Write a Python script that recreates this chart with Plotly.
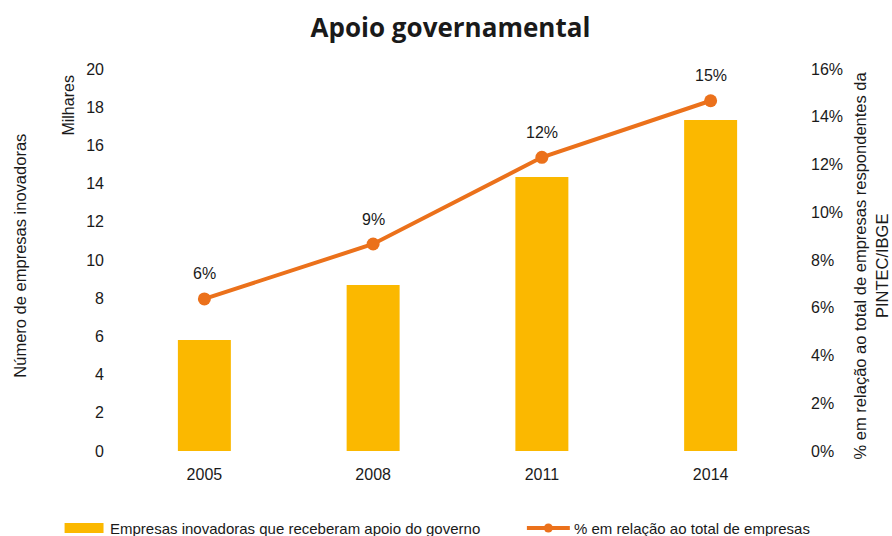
import plotly.graph_objects as go

# Data
anos = ["2005", "2008", "2011", "2014"]
empresas_milhares = [5.81, 8.69, 14.35, 17.33]      # milhares de empresas
percentual = [6.37, 8.67, 12.30, 14.67]            # % do total de empresas
left_ticks = [0, 2, 4, 6, 8, 10, 12, 14, 16, 18, 20]
right_ticks = [0, 2, 4, 6, 8, 10, 12, 14, 16]

nome_barras = "Empresas inovadoras que receberam apoio do governo"
nome_linha = "% em relação ao total de empresas"
titulo = "Apoio governamental"
titulo_esq = "Número de empresas inovadoras"
titulo_dir = "% em relação ao total de empresas respondentes da<br>PINTEC/IBGE"

BAR_COLOR = "#FBB800"
LINE_COLOR = "#EB711B"
FONT = "Liberation Sans Narrow, Arial Narrow, Liberation Sans, Arial, sans-serif"
TXT = "#1a1a1a"

W, H = 892, 536
ML, MR, MT, MB = 119.5, 96.5, 69, 85
PW, PH = W - ML - MR, H - MT - MB

# category slots on the x axis
pos = list(range(len(anos)))


def px(x):
    return (x - ML) / PW


def py(y):
    return (H - MB - y) / PH


fig = go.Figure()

fig.add_trace(go.Bar(
    x=pos, y=empresas_milhares, name=nome_barras,
    customdata=anos, hovertemplate="%{customdata}: %{y}<extra></extra>",
    marker=dict(color=BAR_COLOR, line=dict(width=0)),
    showlegend=False,
))

fig.add_trace(go.Scatter(
    x=pos, y=percentual, name=nome_linha, yaxis="y2",
    customdata=anos, hovertemplate="%{customdata}: %{y:.1f}%<extra></extra>",
    mode="lines+markers",
    line=dict(color=LINE_COLOR, width=4),
    marker=dict(color=LINE_COLOR, size=13),
    showlegend=False,
))

annotations = []
# Value labels above the line points
for xi, p in zip(pos, percentual):
    annotations.append(dict(
        x=xi, y=p, xref="x", yref="y2", text=f"{p:.0f}%",
        showarrow=False, yshift=25,
        font=dict(family=FONT, size=16, color=TXT),
    ))

# "Milhares" unit label
annotations.append(dict(
    x=px(68), y=py(106), xref="paper", yref="paper", text="Milhares",
    textangle=-90, showarrow=False, xanchor="center", yanchor="middle",
    font=dict(family=FONT, size=16, color=TXT),
))
# Left axis title
annotations.append(dict(
    x=px(19), y=py(256), xref="paper", yref="paper", text=titulo_esq,
    textangle=-90, showarrow=False, xanchor="center", yanchor="middle",
    font=dict(family=FONT, size=16.5, color=TXT),
))
# Right axis title
annotations.append(dict(
    x=px(871), y=py(265), xref="paper", yref="paper", text=titulo_dir,
    textangle=-90, showarrow=False, xanchor="center", yanchor="middle",
    font=dict(family=FONT, size=16.5, color=TXT),
))
# Legend texts
annotations.append(dict(
    x=px(107), y=py(528), xref="paper", yref="paper", text=nome_barras,
    showarrow=False, xanchor="left", yanchor="middle",
    font=dict(family=FONT, size=15, color=TXT),
))
annotations.append(dict(
    x=px(572), y=py(528), xref="paper", yref="paper", text=nome_linha,
    showarrow=False, xanchor="left", yanchor="middle",
    font=dict(family=FONT, size=15, color=TXT),
))

# Legend swatches
shapes = [
    dict(type="rect", xref="paper", yref="paper",
         x0=px(64), x1=px(103), y0=py(533), y1=py(523),
         fillcolor=BAR_COLOR, line=dict(width=0)),
    dict(type="line", xref="paper", yref="paper",
         x0=px(527), x1=px(570), y0=py(528), y1=py(528),
         line=dict(color=LINE_COLOR, width=4)),
    dict(type="circle", xref="paper", yref="paper",
         x0=px(544), x1=px(553), y0=py(532.5), y1=py(523.5),
         fillcolor=LINE_COLOR, line=dict(width=0)),
]

fig.update_layout(
    width=W, height=H,
    margin=dict(l=ML, r=MR, t=MT, b=MB, pad=0),
    paper_bgcolor="white", plot_bgcolor="white",
    title=dict(text=f"<b>{titulo}</b>", x=0.505, xanchor="center",
               y=1 - 28 / H, yanchor="middle",
               font=dict(family="Open Sans", size=26, color=TXT)),
    bargap=0.686,
    xaxis=dict(
        range=[-0.5, len(anos) - 0.5], tickvals=pos, ticktext=anos,
        showgrid=False, showline=False, zeroline=False,
        ticks="", ticklabelstandoff=12,
        tickfont=dict(family=FONT, size=16, color=TXT),
    ),
    yaxis=dict(
        range=[0, 20], tickvals=left_ticks, showgrid=False, showline=False,
        zeroline=False, ticks="", ticklabelstandoff=15,
        tickfont=dict(family=FONT, size=16, color=TXT),
    ),
    yaxis2=dict(
        range=[0, 16], tickvals=right_ticks,
        ticktext=[f"{v}%" for v in right_ticks],
        overlaying="y", side="right", showgrid=False, showline=False,
        zeroline=False, ticks="", ticklabelstandoff=15,
        tickfont=dict(family=FONT, size=16, color=TXT),
    ),
    annotations=annotations,
    shapes=shapes,
)

fig.write_html("out.html")
